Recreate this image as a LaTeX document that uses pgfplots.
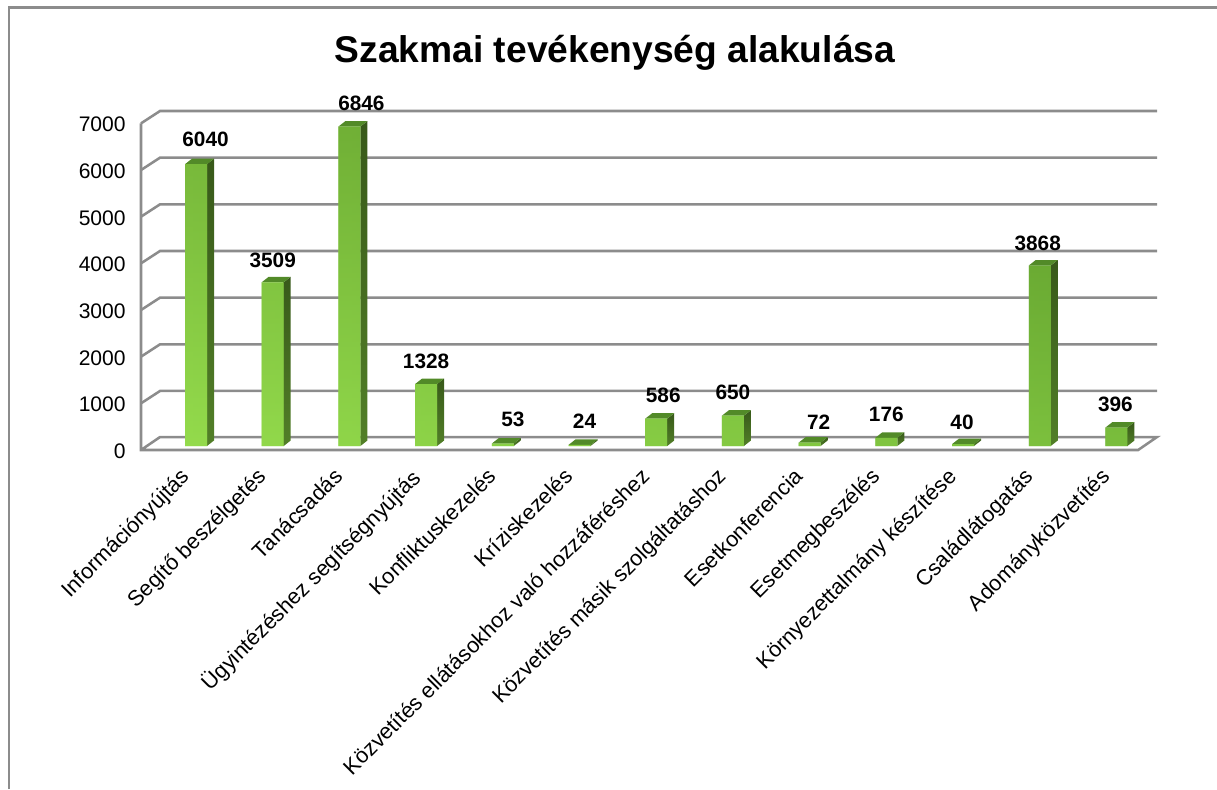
\documentclass[border=0pt]{standalone}
\usepackage{fontspec}
\setmainfont{Liberation Sans}
\usepackage{pgfplots}
\usepackage{pgfplotstable}
\pgfplotsset{compat=1.18}

\definecolor{gridcol}{HTML}{8C8C8C}
\definecolor{barlight}{HTML}{94DB4C}
\definecolor{barright}{HTML}{5A9A2A}
\definecolor{bartop}{HTML}{5C9629}
\definecolor{sidedark}{HTML}{38591A}
\definecolor{sidelight}{HTML}{527F28}
\definecolor{topcol}{HTML}{528A28}

% x = category, v = value, lx/ly = label offset from the bar's top in px
\pgfplotstableread{
x  v     lx    ly
0  6040  9.5   25
1  3509  0     22
2  6846  12    23
3  1328  0     23
4  53    10    24
5  24    5     24
6  586   7     23
7  650   0     23
8  72    9     20
9  176   0     23
10 40    -1    22
11 3868  -2    22
12 396   -1    23
}\bars

% side and top faces of one bar: {category}{value}
\newcommand{\barfaces}[2]{
  \pgfmathsetmacro{\xa}{#1-0.1434}
  \pgfmathsetmacro{\xb}{#1+0.1434}
  \pgfmathsetmacro{\xc}{#1-0.0521}
  \pgfmathsetmacro{\xd}{#1+0.2347}
  \pgfmathsetmacro{\yt}{#2+118}
  \addplot[draw=none, bottom color=sidelight, top color=sidedark, yshift=3pt, xshift=12.5pt]
    coordinates {(\xb,0) (\xd,118) (\xd,\yt) (\xb,#2)} --cycle;
  \addplot[draw=none, fill=topcol, yshift=3pt, xshift=12.5pt]
    coordinates {(\xa,#2) (\xc,\yt) (\xd,\yt) (\xb,#2)} --cycle;
}

\begin{document}
\begin{tikzpicture}[x=0.75pt, y=0.75pt]
\useasboundingbox (-141,-339) rectangle (1076,450);
\draw[gridcol, line width=1.9pt] (-132,-339) -- (-132,442.5) -- (1076,442.5);
\begin{axis}[
    at={(0,0)}, anchor=south west,
    scale only axis,
    width=762pt, height=254.25pt,
    xmin=-0.5, xmax=12.746,
    ymin=0, ymax=7265,
    clip=false,
    axis line style={draw=none},
    major tick length=0pt,
    xtick={0,...,12},
    xticklabels={Információnyújtás, Segítő beszélgetés, Tanácsadás,
      Ügyintézéshez segítségnyújtás, Konfliktuskezelés, Kríziskezelés,
      Közvetítés ellátásokhoz való hozzáféréshez,
      Közvetítés másik szolgáltatáshoz, Esetkonferencia, Esetmegbeszélés,
      Környezettalmány készítése, Családlátogatás, Adományközvetítés},
    xticklabel style={rotate=45, anchor=north east, font=\fontsize{16.3}{18}\selectfont, inner sep=0pt, xshift=-8.7pt, yshift=-8.6pt},
    ytick={0,1000,...,7000},
    yticklabel style={font=\fontsize{15.8}{17}\selectfont, xshift=-8pt, yshift=-1pt},
    /pgf/number format/assume math mode=true,
    /pgf/number format/1000 sep={},
    title={\bfseries Szakmai tevékenység alakulása},
    title style={at={(0.4665,1.147)}, anchor=center, font=\fontsize{27.9}{32}\selectfont},
]
% walls and floor
\pgfplotsinvokeforeach{1000,2000,3000,4000,5000,6000,7000}{
  \pgfmathsetmacro{\yb}{#1+265}
  \addplot[gridcol, line width=1.9pt] coordinates {(-0.5,#1) (-0.252,\yb) (12.746,\yb)};
}
\addplot[gridcol, line width=1.9pt] coordinates {(-0.5,7000) (-0.5,0) (12.5,0) (12.746,278) (-0.252,278) (-0.5,0)};

% bar faces behind the fronts
\barfaces{0}{6040}
\barfaces{1}{3509}
\barfaces{2}{6846}
\barfaces{3}{1328}
\barfaces{4}{53}
\barfaces{5}{24}
\barfaces{6}{586}
\barfaces{7}{650}
\barfaces{8}{72}
\barfaces{9}{176}
\barfaces{10}{40}
\barfaces{11}{3868}
\barfaces{12}{396}

% bar fronts: left to right, then bottom to top laid over it
\addplot[ybar, bar width=16.5pt, bar shift=0pt, xshift=12.5pt, yshift=3pt, draw=none,
    left color=barlight, right color=barright,
  ] table[x=x, y=v] {\bars};
\addplot[ybar, bar width=16.5pt, bar shift=0pt, xshift=12.5pt, yshift=3pt, draw=none,
    bottom color=barlight, top color=bartop, fill opacity=0.55,
  ] table[x=x, y=v] {\bars};
% value labels
\addplot[ybar, bar width=16.5pt, bar shift=0pt, xshift=12.5pt, yshift=3pt, draw=none, fill=none,
    visualization depends on={0.75*\thisrow{lx} \as \labx},
    visualization depends on={0.75*\thisrow{ly} \as \laby},
    nodes near coords,
    every node near coord/.append style={anchor=center, xshift=\labx pt, yshift=\laby pt,
      font=\fontsize{15.6}{17}\selectfont\bfseries, text=black},
  ] table[x=x, y=v] {\bars};
\end{axis}
\end{tikzpicture}
\end{document}
